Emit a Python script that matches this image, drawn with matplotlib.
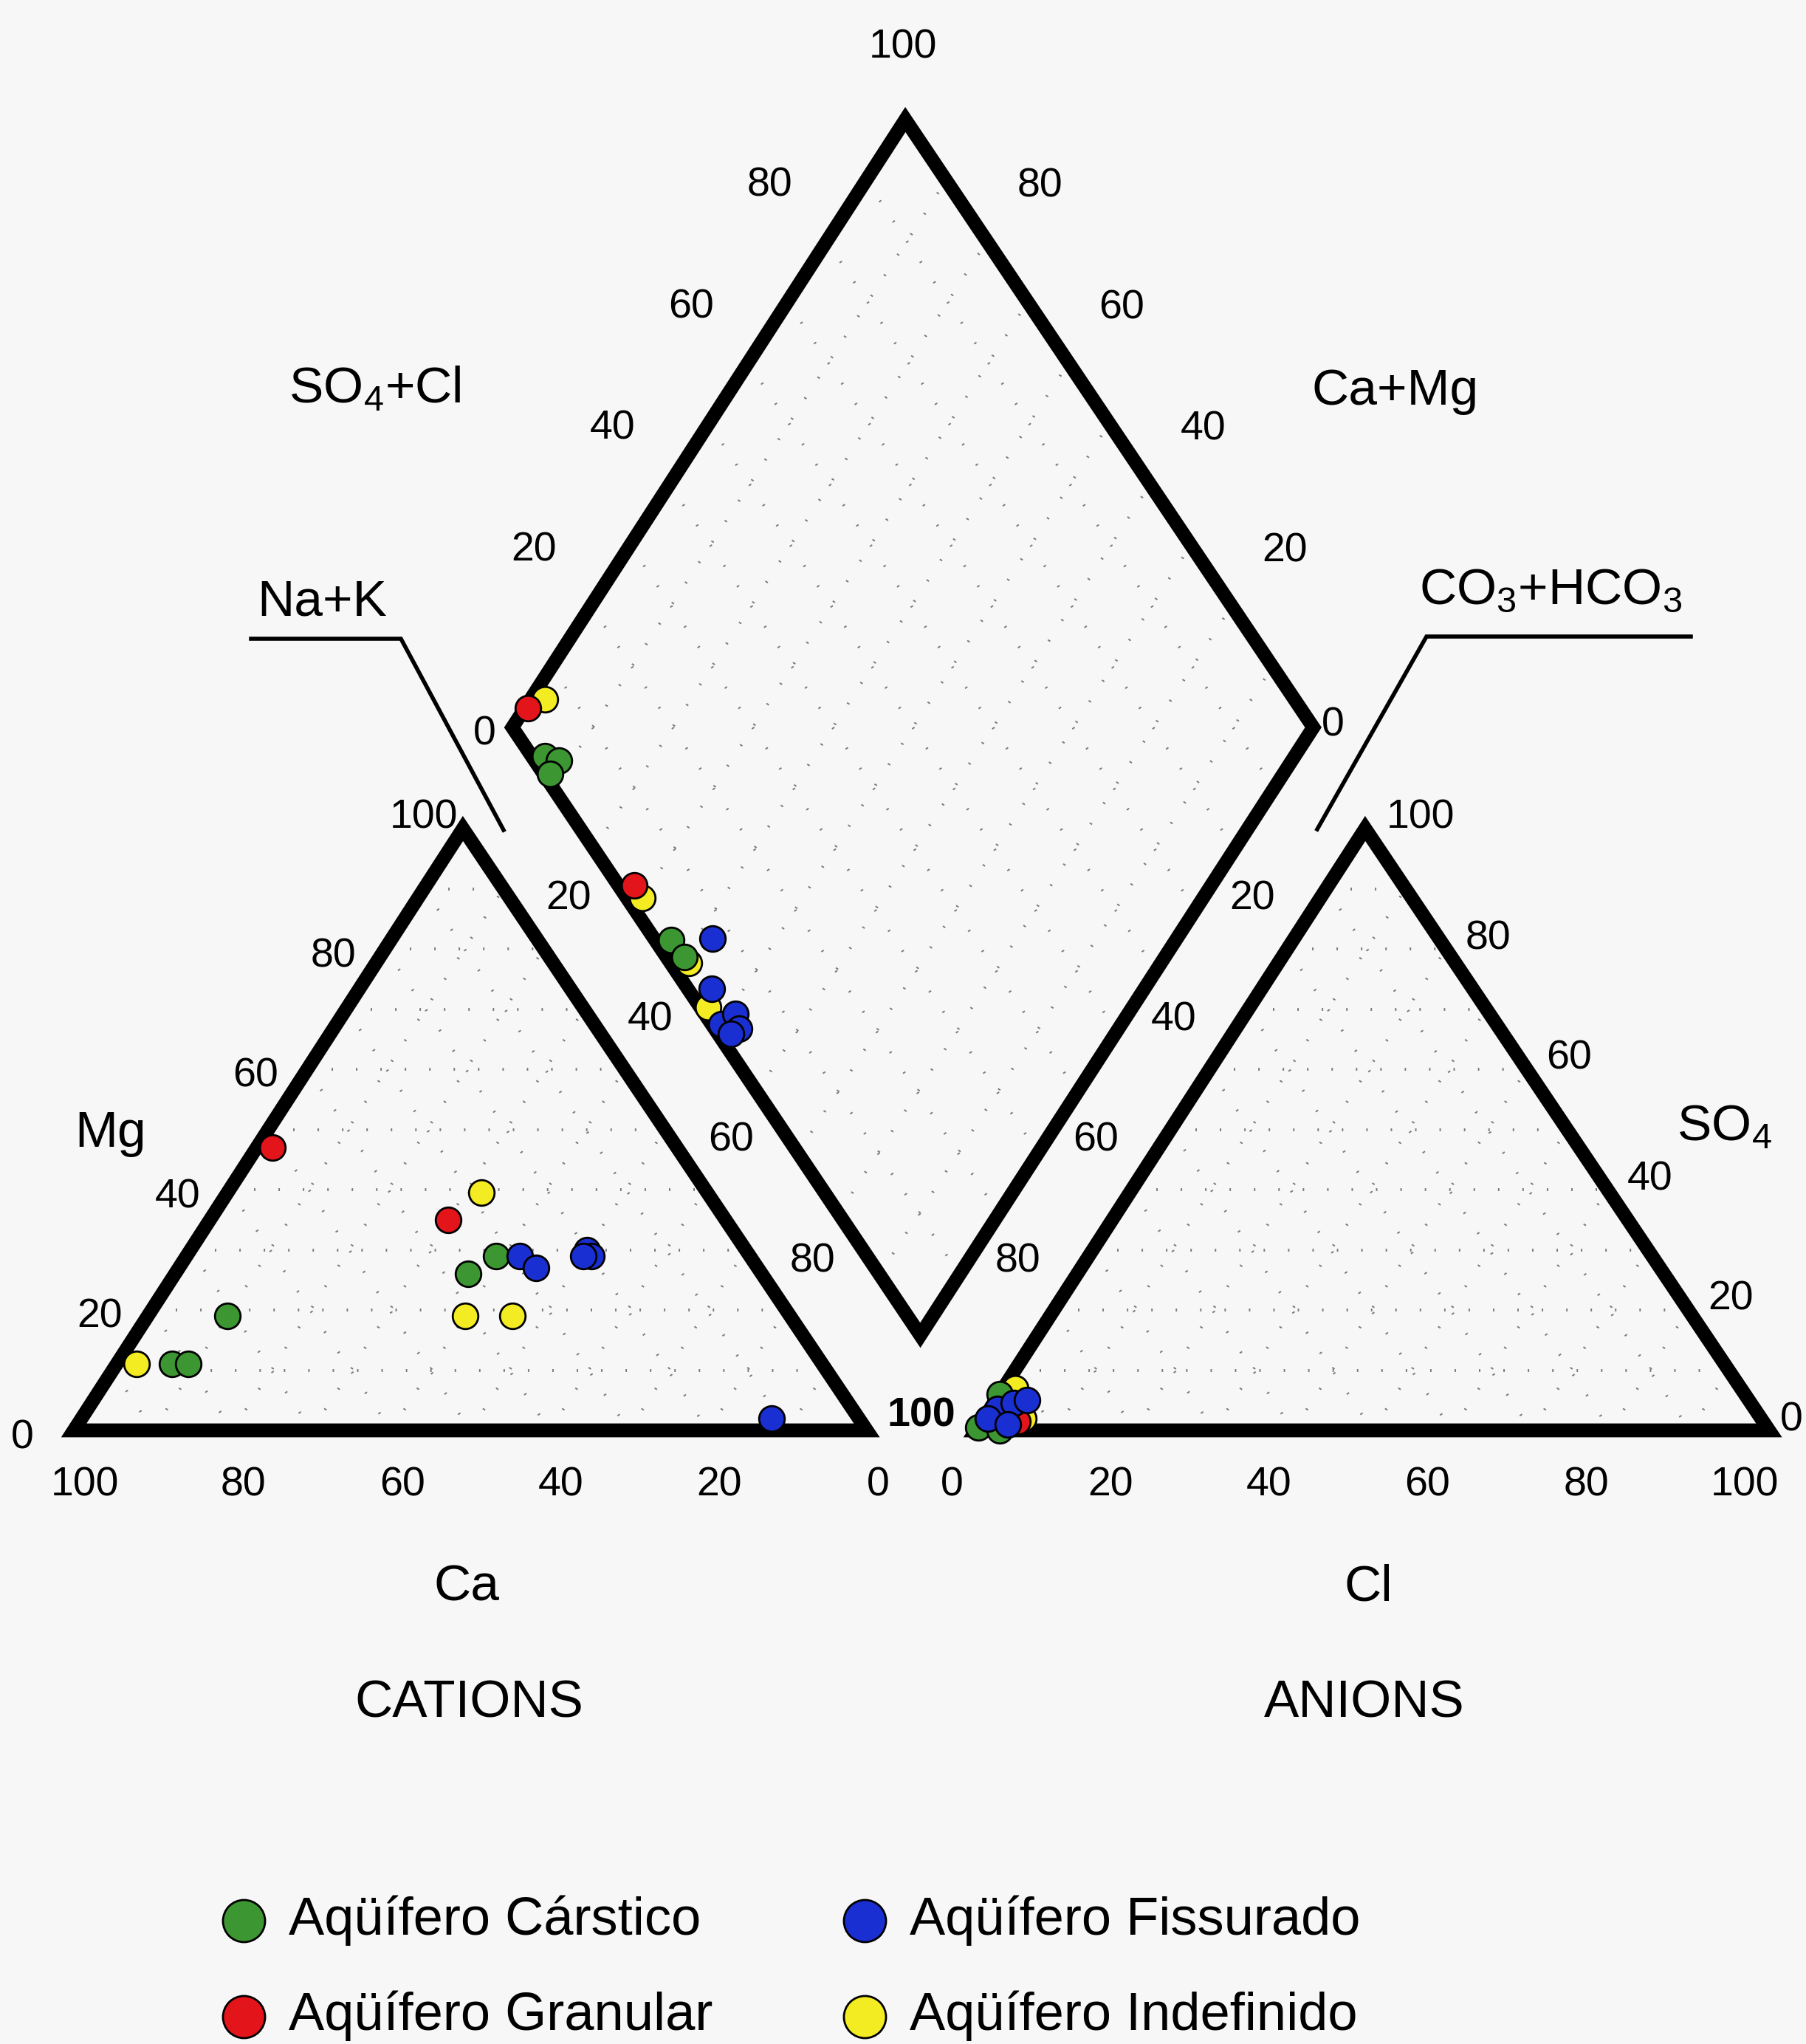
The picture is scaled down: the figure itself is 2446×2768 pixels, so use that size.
import numpy as np
import matplotlib.pyplot as plt
from matplotlib.patches import Polygon
from matplotlib.transforms import Affine2D

plt.rcParams['font.family'] = ['Liberation Sans', 'DejaVu Sans']
plt.rcParams['mathtext.fontset'] = 'custom'
plt.rcParams['mathtext.rm'] = 'Liberation Sans'

# sample groups, in drawing order (yellow first so the others sit on top)
groups = ['Aqüífero Indefinido', 'Aqüífero Cárstico', 'Aqüífero Granular', 'Aqüífero Fissurado']
legend_order = ['Aqüífero Cárstico', 'Aqüífero Granular', 'Aqüífero Fissurado', 'Aqüífero Indefinido']
colors = {
    'Aqüífero Cárstico': '#3c9632',
    'Aqüífero Granular': '#e3141a',
    'Aqüífero Fissurado': '#1a2fd2',
    'Aqüífero Indefinido': '#f4ec22',
}

# cation triangle: % Na+K and % Mg (Ca is the remainder)
cation_nak = {
    'Aqüífero Cárstico': [39, 37, 10, 7, 9],
    'Aqüífero Granular': [2, 30],
    'Aqüífero Fissurado': [42, 45, 50, 51, 50, 87],
    'Aqüífero Indefinido': [32, 40, 46, 2.5],
}
cation_mg = {
    'Aqüífero Cárstico': [29, 26, 19, 11, 11],
    'Aqüífero Granular': [47, 35],
    'Aqüífero Fissurado': [29, 27, 30, 29, 29, 2],
    'Aqüífero Indefinido': [39.5, 19, 19, 11],
}

# anion triangle: % Cl and % SO4 (CO3+HCO3 is the remainder)
anion_cl = {
    'Aqüífero Cárstico': [0, 0, 3],
    'Aqüífero Granular': [4.5],
    'Aqüífero Fissurado': [1, 2.5, 0.5, 3.5, 4],
    'Aqüífero Indefinido': [1.5, 5],
}
anion_so4 = {
    'Aqüífero Cárstico': [6, 0.5, 0],
    'Aqüífero Granular': [1.5],
    'Aqüífero Fissurado': [3.5, 4.5, 2, 1, 5],
    'Aqüífero Indefinido': [7, 2],
}

# central diamond: % Na+K and % SO4+Cl
diamond_nak = {
    'Aqüífero Cárstico': [6.4, 8.5, 8.5, 37, 40],
    'Aqüífero Granular': [0.4, 28],
    'Aqüífero Fissurado': [42, 46, 50, 51, 52.6, 52],
    'Aqüífero Indefinido': [1.8, 30, 41, 47],
}
diamond_so4cl = {
    'Aqüífero Cárstico': [1.7, 3, 0.8, 2, 2.2],
    'Aqüífero Granular': [3.6, 2],
    'Aqüífero Fissurado': [7.3, 3, 1.2, 3.9, 3, 1.6],
    'Aqüífero Indefinido': [6.4, 2, 2.3, 1],
}

ticks = [0, 20, 40, 60, 80, 100]

# layout of the diagram (pixels of the output image)
W, Hfig = 2446, 2768
SIDE, HEIGHT = 1074.0, 815.0
X0, Y0 = 100.0, 1937.0
SHEAR = -10.0
GAP = 148.0 / SIDE
VB = 0.158          # height of the diamond's lower vertex
D = 1.01            # diamond size relative to the triangles
BU = 1 + GAP / 2
LU, LV = BU - 0.5 * D, VB + D

fig = plt.figure(figsize=(W / 100, Hfig / 100), dpi=100)
fig.patch.set_facecolor('#f7f7f7')
ax = fig.add_axes([0, 0, 1, 1])
ax.set_xlim(0, W)
ax.set_ylim(Hfig, 0)
ax.axis('off')

# unit triangle coordinates -> pixels
paper = Affine2D.from_values(SIDE, 0, SHEAR, -HEIGHT, X0, Y0)
ptrans = paper + ax.transData


def cation_xy(nak, mg):
    nak, mg = np.asarray(nak) / 100, np.asarray(mg) / 100
    return nak + 0.5 * mg, mg


def anion_xy(cl, so4):
    cl, so4 = np.asarray(cl) / 100, np.asarray(so4) / 100
    return 1 + GAP + cl + 0.5 * so4, so4


def diamond_xy(nak, s):
    nak, s = np.asarray(nak) / 100, np.asarray(s) / 100
    return LU + 0.5 * D * (nak + s), LV + D * (s - nak)


def to_px(xy):
    return paper.transform(np.column_stack(xy))[0]


# dotted grid
grid_kw = dict(color='#7a7a7a', lw=2.8, ls=(0, (0.5, 8)), transform=ptrans, zorder=1)
for k in range(10, 100, 10):
    r = 100 - k
    for f in (cation_xy, anion_xy):
        ax.plot(*f([0, r], [k, k]), **grid_kw)
        ax.plot(*f([k, k], [0, r]), **grid_kw)
        ax.plot(*f([0, r], [r, 0]), **grid_kw)
    ax.plot(*diamond_xy([k, k], [0, 100]), **grid_kw)
    ax.plot(*diamond_xy([0, 100], [k, k]), **grid_kw)

# frames
frame_kw = dict(closed=True, fill=False, ec='black', lw=13.5, joinstyle='miter',
                transform=ptrans, zorder=3)
for f, pts in ((cation_xy, ([0, 100, 0], [0, 0, 100])),
               (anion_xy, ([0, 100, 0], [0, 0, 100])),
               (diamond_xy, ([0, 100, 100, 0], [0, 0, 100, 100]))):
    ax.add_patch(Polygon(np.column_stack(f(*pts)), **frame_kw))

# samples
handles = {}
for g in groups:
    kw = dict(s=620, c=colors[g], edgecolors='black', linewidths=2.0,
              transform=ptrans, zorder=5)
    handles[g] = ax.scatter(*cation_xy(cation_nak[g], cation_mg[g]), label=g, **kw)
    ax.scatter(*anion_xy(anion_cl[g], anion_so4[g]), **kw)
    ax.scatter(*diamond_xy(diamond_nak[g], diamond_so4cl[g]), **kw)

# tick labels
tk = dict(fontsize=40, ha='center', va='center', zorder=4)


def put(p, dx, dy, s, **kw):
    ax.text(p[0] + dx, p[1] + dy, s, **{**tk, **kw})


for t in ticks:
    s = str(t)
    # Ca along the cation base
    put(to_px(cation_xy(100 - t, 0)), 15, 75, s)
    # Cl along the anion base
    put(to_px(anion_xy(t, 0)), -33, 75, s)
    # Mg on the cation left edge
    if t == 100:
        put(to_px(cation_xy(0, t)), -53, -14, s)
    else:
        put(to_px(cation_xy(0, t)), -70, 10, s)
    # SO4 on the anion right edge
    if t == 100:
        put(to_px(anion_xy(0, t)), 75, -15, s)
    elif t == 0:
        put(to_px(anion_xy(100, 0)), 30, -13, s)
    else:
        put(to_px(anion_xy(100 - t, t)), 57, -14, s)
    # SO4+Cl on the diamond upper-left edge
    if t == 0:
        put(to_px(diamond_xy(0, t)), -38, 9, s)
    elif t == 100:
        put(to_px(diamond_xy(0, t)), -3, -97, s)
    else:
        put(to_px(diamond_xy(0, t)), -77, -75, s)
    # Ca+Mg on the diamond upper-right edge
    if t == 0:
        put(to_px(diamond_xy(100, 100)), 27, -3, s)
    elif t < 100:
        put(to_px(diamond_xy(100 - t, 100)), 72, -74, s)
    # Na+K and CO3+HCO3 between the diamond and the triangles
    if 0 < t < 100:
        p = (to_px(diamond_xy(t, 0)) + to_px(cation_xy(t, 100 - t))) / 2
        put(p, 0, 0, s)
        p = (to_px(diamond_xy(100, 100 - t)) + to_px(anion_xy(0, 100 - t))) / 2
        put(p, -12, 0, s)
put(to_px(cation_xy(100, 0)), 74, -19, '100', fontweight='bold')

# axis names
tt = dict(fontsize=50, ha='center', va='center')
ax.text(508, 527, 'SO$_4$+Cl', **tt)
ax.text(1890, 530, 'Ca+Mg', **tt)
ax.text(436, 815, 'Na+K', **tt)
ax.text(2100, 800, 'CO$_3$+HCO$_3$', **tt)
ax.text(150, 1535, 'Mg', **tt)
ax.text(2335, 1527, 'SO$_4$', **tt)
ax.text(632, 2150, 'Ca', **tt)
ax.text(1853, 2150, 'Cl', **tt)
ax.text(635, 2308, 'CATIONS', fontsize=51, ha='center', va='center')
ax.text(1848, 2308, 'ANIONS', fontsize=51, ha='center', va='center')

# leader lines for Na+K and CO3+HCO3
ax.plot([340, 543, 682], [865, 865, 1124], color='black', lw=4, solid_joinstyle='miter')
ax.plot([2290, 1932, 1784], [862, 862, 1123], color='black', lw=4, solid_joinstyle='miter')

ax.legend(handles=[handles[g] for g in legend_order], ncol=2, frameon=False,
          fontsize=52, markerscale=1.65, handlelength=0.8, handletextpad=0.44,
          columnspacing=2.45, labelspacing=0.85, borderpad=0,
          loc='upper left', bbox_to_anchor=(265, 2530), bbox_transform=ax.transData)

fig.savefig('out.png', dpi=100, facecolor=fig.get_facecolor())
